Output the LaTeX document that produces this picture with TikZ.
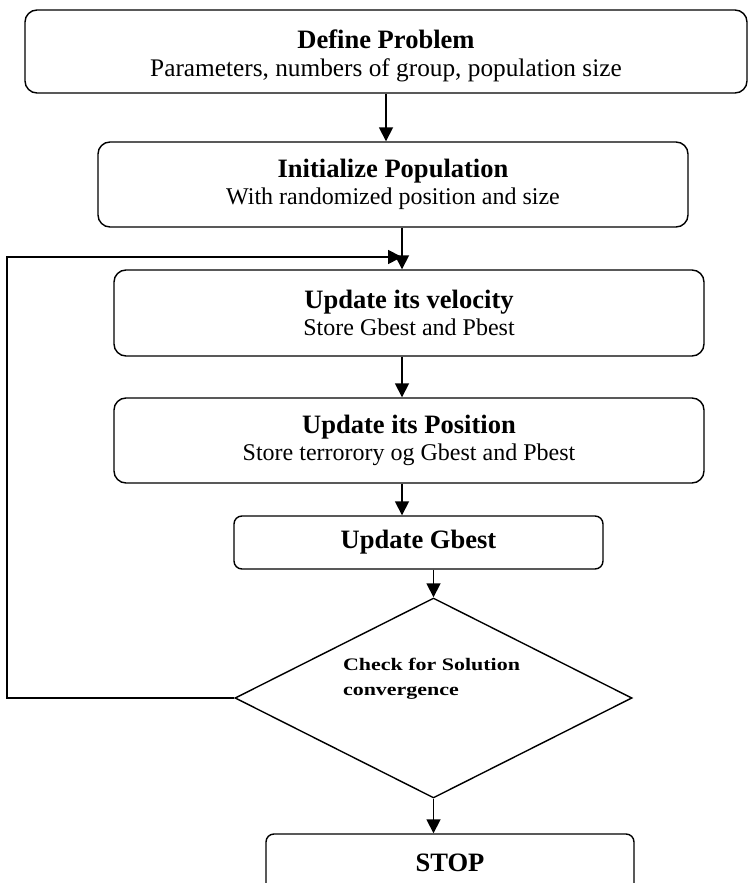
\documentclass[tikz,border=0pt]{standalone}
\usepackage{fontspec}
\setmainfont{Liberation Serif}
\newfontfamily\widefont[FakeStretch=1.25]{Liberation Serif}
\usetikzlibrary{arrows.meta,calc,shapes.geometric}
\tikzset{
  stepbox/.style={
    rectangle, rounded corners=0.24cm, draw=black, line width=0.8pt,
    align=center, inner sep=0pt,
    font=\fontsize{13.66pt}{15.4pt}\selectfont
  },
  smallbox/.style={
    stepbox, rounded corners=0.16cm,
    font=\bfseries\fontsize{15.1pt}{15.4pt}\selectfont
  },
  checkbox/.style={
    diamond, draw=black, line width=0.8pt,
    minimum width=7.94cm, minimum height=4.0cm, inner sep=0pt
  },
  checktext/.style={
    align=left, inner sep=0pt,
    font=\widefont\bfseries\fontsize{10pt}{14.2pt}\selectfont
  },
  flow/.style={
    -{Triangle[length=2.8mm,width=2.8mm]}, draw=black, line width=1pt
  }
}

\begin{document}
\begin{tikzpicture}[x=1cm,y=1cm]
  \useasboundingbox (0,0) rectangle (14.98,17.66);

  \node[stepbox, minimum width=14.44cm, minimum height=1.66cm,
    font=\fontsize{14.4pt}{15.4pt}\selectfont] (define) at (7.72,16.63)
    {\rule{0pt}{0.55cm}{\bfseries\fontsize{15.1pt}{15.4pt}\selectfont Define Problem}\\
     Parameters, numbers of group, population size};
  \node[stepbox, minimum width=11.8cm, minimum height=1.70cm] (init) at (7.86,13.97)
    {{\bfseries\fontsize{15.1pt}{15.4pt}\selectfont Initialize Population}\\
     With randomized position and size};
  \node[stepbox, minimum width=11.8cm, minimum height=1.72cm] (velocity) at (8.18,11.40)
    {{\bfseries\fontsize{15.1pt}{15.4pt}\selectfont Update its velocity}\\
     Store Gbest and Pbest};
  \node[stepbox, minimum width=11.8cm, minimum height=1.70cm] (position) at (8.18,8.85)
    {{\bfseries\fontsize{15.1pt}{15.4pt}\selectfont Update its Position}\\
     Store terrorory og Gbest and Pbest};
  \node[smallbox, minimum width=7.38cm, minimum height=1.06cm] (gbest) at (8.37,6.81)
    {Update Gbest};
  \node[checkbox] (check) at (8.67,3.70) {};
  \node[checktext] (checklbl) at (8.63,4.08) {Check for Solution\\convergence};
  \node[smallbox, minimum width=7.36cm, minimum height=1.14cm] (stop) at (9.00,0.41)
    {STOP};
  \coordinate (join) at (8.04,12.52);

  % main sequence
  \draw[flow] (define.south) -- (define.south |- init.north);
  \draw[flow] (join |- init.south) -- (join |- velocity.north);
  \draw[flow] (join |- velocity.south) -- (join |- position.north);
  \draw[flow] (join |- position.south) -- (join |- gbest.north);
  \draw[flow] (check.north |- gbest.south) -- (check.north);
  \draw[flow] (check.south) -- (check.south |- stop.north);

  % loop back when not converged
  \draw[flow] (check.west) -- (0.14,0 |- check.west) -- (0.14,12.52) -- (join);
\end{tikzpicture}
\end{document}
